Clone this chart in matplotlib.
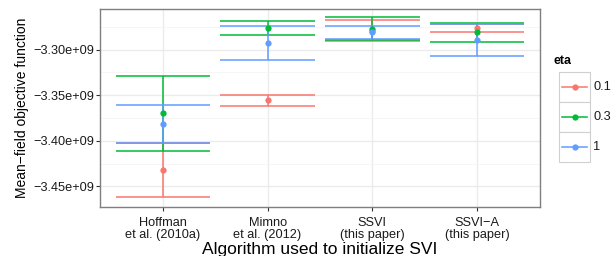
import matplotlib
matplotlib.use("Agg")
import matplotlib.pyplot as plt
from matplotlib.patches import Rectangle
from matplotlib.ticker import FuncFormatter, MultipleLocator

plt.rcParams["font.family"] = ["Liberation Sans", "DejaVu Sans"]

# data, in units of 1e9
algorithms = ["Hoffman\net al. (2010a)", "Mimno\net al. (2012)",
              "SSVI\n(this paper)", "SSVI\u2212A\n(this paper)"]
etas = ["0.1", "0.3", "1"]
colors = ["#F8766D", "#00BA38", "#619CFF"]

mean_01 = [-3.4317, -3.3551, -3.2792, -3.2762]
low_01 = [-3.4616, -3.3613, -3.2908, -3.2810]
high_01 = [-3.4022, -3.3493, -3.2675, -3.2724]

mean_03 = [-3.3693, -3.2762, -3.2773, -3.2810]
low_03 = [-3.4106, -3.2842, -3.2894, -3.2912]
high_03 = [-3.3288, -3.2682, -3.2645, -3.2711]

mean_1 = [-3.3817, -3.2923, -3.2810, -3.2894]
low_1 = [-3.4029, -3.3113, -3.2883, -3.3069]
high_1 = [-3.3606, -3.2737, -3.2740, -3.2722]

series = [(mean_01, low_01, high_01),
          (mean_03, low_03, high_03),
          (mean_1, low_1, high_1)]

W, H = 612, 256
fig = plt.figure(figsize=(W / 100, H / 100), dpi=100)
ax = fig.add_axes([100 / W, 1 - 207 / H, 440 / W, 198 / H])

xs = list(range(1, len(algorithms) + 1))
half = 0.45

# error bars first, then points (ggplot layer order)
for (m, lo, hi), c in zip(series, colors):
    ax.hlines(lo, [x - half for x in xs], [x + half for x in xs], color=c, lw=1.1, zorder=3)
    ax.hlines(hi, [x - half for x in xs], [x + half for x in xs], color=c, lw=1.1, zorder=3)
    ax.vlines(xs, lo, hi, color=c, lw=1.1, zorder=3)
for (m, lo, hi), c in zip(series, colors):
    ax.plot(xs, m, "o", color=c, ms=4.5, mec="none", zorder=4)

ax.set_xlim(0.4, 4.6)
ax.set_ylim(-3.4725, -3.2555)
ax.set_xticks(xs)
ax.set_xticklabels(algorithms, fontsize=9.2, color="#1a1a1a", linespacing=1.05)
ax.yaxis.set_major_locator(MultipleLocator(0.05))
ax.yaxis.set_minor_locator(MultipleLocator(0.025))
ax.yaxis.set_major_formatter(FuncFormatter(
    lambda v, p: f"{v:.2f}e+09".replace("-", "\u2212")))
ax.tick_params(axis="y", labelsize=9.2, labelcolor="#1a1a1a", length=3,
               width=0.8, color="#333333", pad=1.5)
ax.tick_params(axis="y", which="minor", length=0)
ax.tick_params(axis="x", length=3, width=0.8, color="#333333", pad=4)

ax.grid(True, which="major", color="#EBEBEB", lw=1.0, zorder=0)
ax.grid(True, which="minor", axis="y", color="#F5F5F5", lw=0.6, zorder=0)
ax.set_axisbelow(True)
for s in ax.spines.values():
    s.set_color("#7F7F7F")
    s.set_linewidth(1.0)

ax.set_ylabel("Mean\u2212field objective function", fontsize=10, labelpad=3)
ax.set_xlabel("Algorithm used to initialize SVI", fontsize=12.5, labelpad=0.5)

# legend drawn in its own small axes
lax = fig.add_axes([559 / W, 1 - 162 / H, 31 / W, 90 / H])
lax.set_xlim(0, 1)
lax.set_ylim(0, len(etas))
lax.axis("off")
for i, (lab, c) in enumerate(zip(etas, colors)):
    yb = len(etas) - 1 - i
    lax.add_patch(Rectangle((0, yb), 1, 1, facecolor="white",
                            edgecolor="#D0D0D0", lw=0.8, clip_on=False))
    lax.plot([0.1, 0.9], [yb + 0.5, yb + 0.5], color=c, lw=1.1)
    lax.plot([0.5], [yb + 0.5], "o", color=c, ms=4.5, mec="none")
    lax.text(1.1, yb + 0.5, lab, fontsize=9.2, va="center", ha="left",
             color="#1a1a1a")
fig.text(553 / W, 1 - 61 / H, "eta", fontsize=9, fontweight="bold",
         va="center", ha="left")

fig.savefig("out.png", dpi=100)
